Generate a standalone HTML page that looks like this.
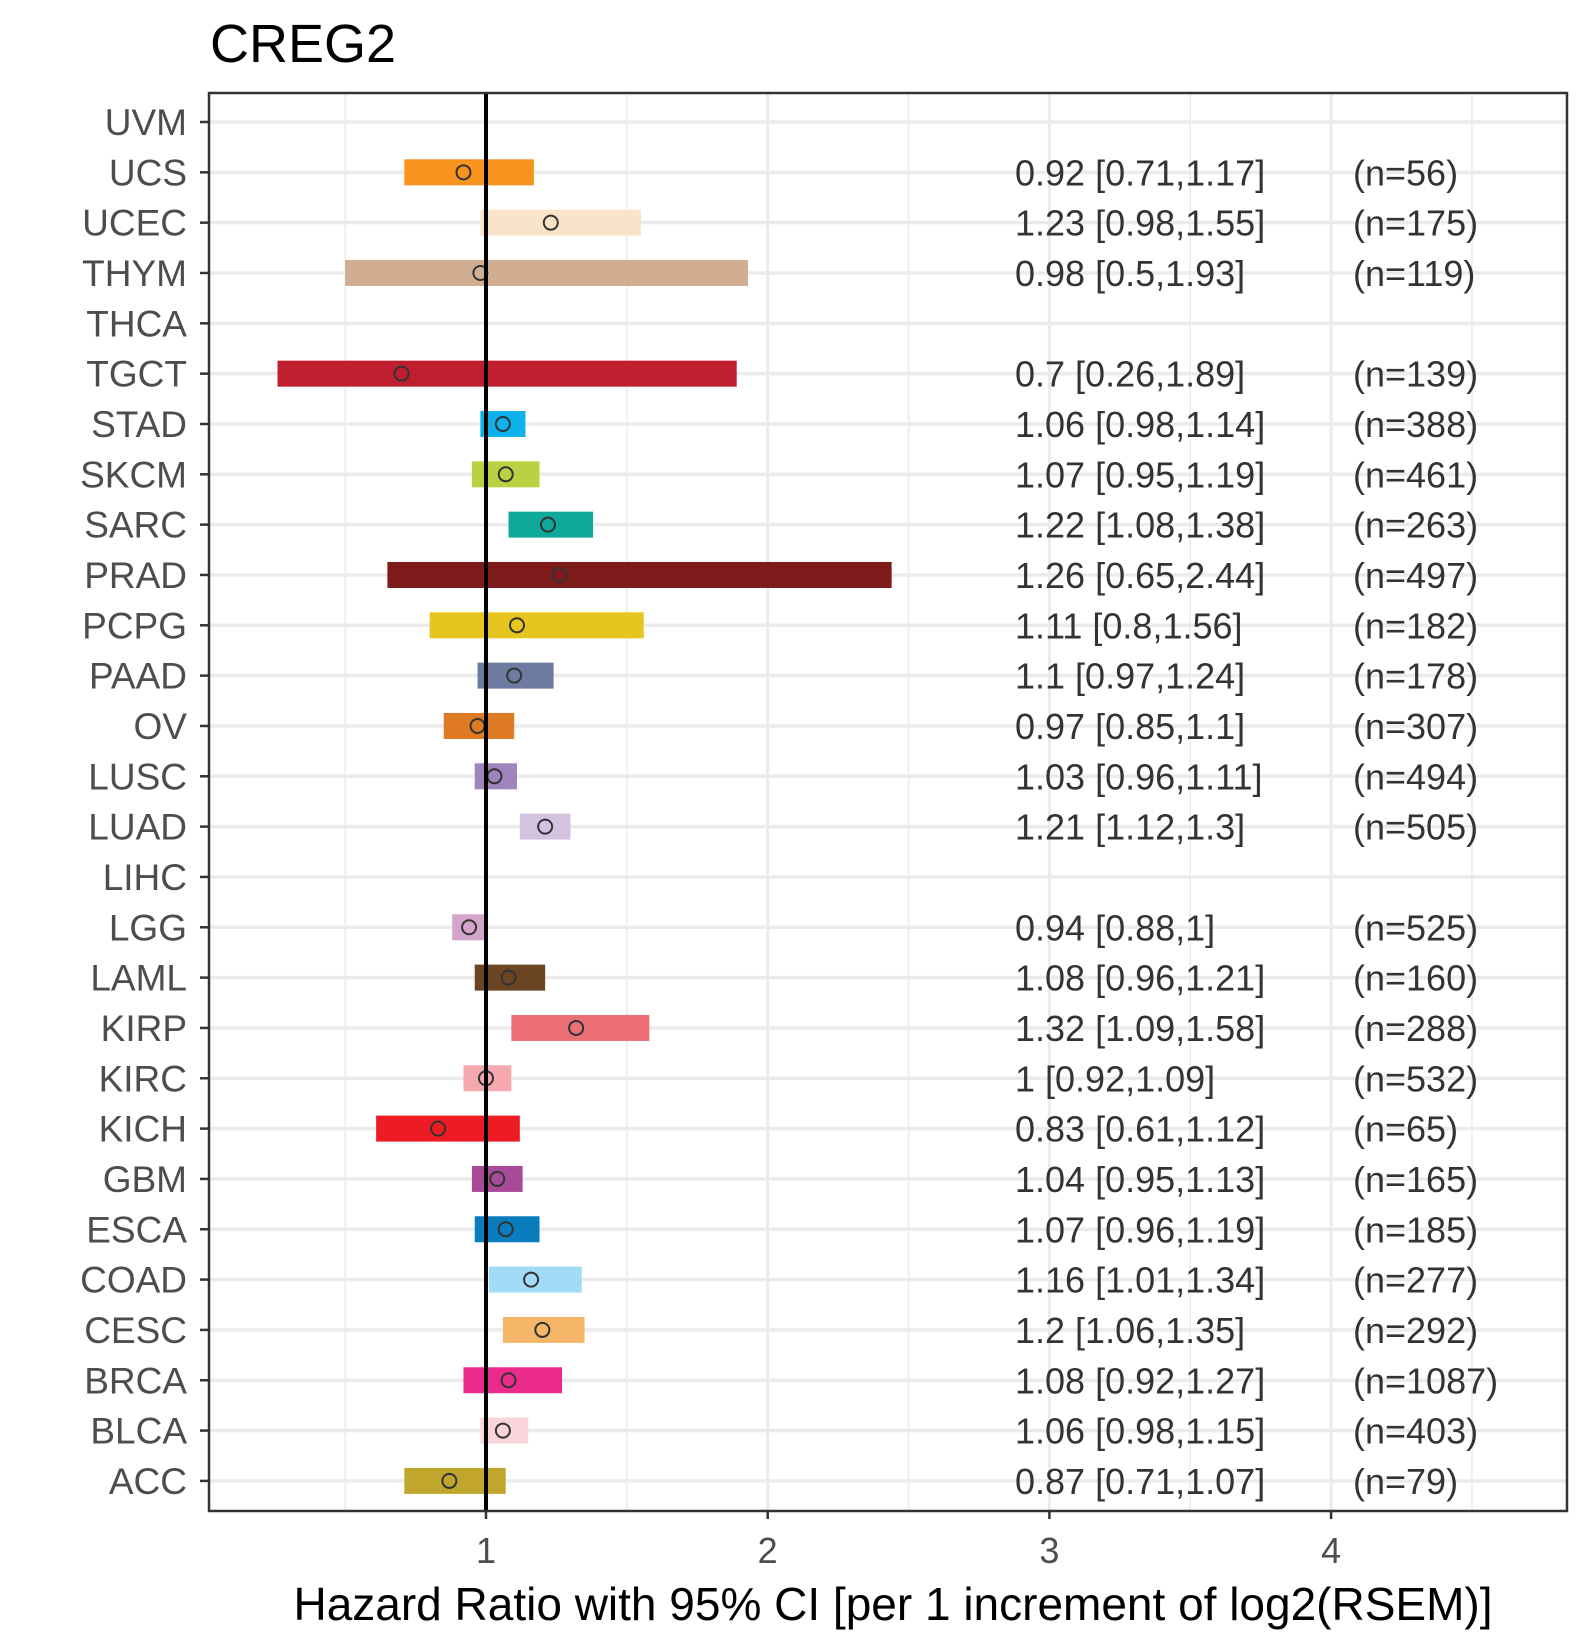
<!DOCTYPE html>
<html><head><meta charset="utf-8"><style>
html,body{margin:0;padding:0;background:#fff;}
svg{display:block;font-family:"Liberation Sans",Arial,sans-serif;}
</style></head><body>
<svg id="chart" width="1590" height="1650" viewBox="0 0 1590 1650">
<text x="210" y="62" font-size="54" fill="#000">CREG2</text>
<g id="grid"></g>
<g id="bars"></g>
<g id="labels"></g>
<text x="893" y="1620" font-size="46" fill="#000" text-anchor="middle">Hazard Ratio with 95% CI [per 1 increment of log2(RSEM)]</text>
</svg>
<script>
const categories = ["UVM","UCS","UCEC","THYM","THCA","TGCT","STAD","SKCM","SARC","PRAD","PCPG","PAAD","OV","LUSC","LUAD","LIHC","LGG","LAML","KIRP","KIRC","KICH","GBM","ESCA","COAD","CESC","BRCA","BLCA","ACC"];
const hr    = [null,0.92,1.23,0.98,null,0.7,1.06,1.07,1.22,1.26,1.11,1.1,0.97,1.03,1.21,null,0.94,1.08,1.32,1,0.83,1.04,1.07,1.16,1.2,1.08,1.06,0.87];
const lower = [null,0.71,0.98,0.5,null,0.26,0.98,0.95,1.08,0.65,0.8,0.97,0.85,0.96,1.12,null,0.88,0.96,1.09,0.92,0.61,0.95,0.96,1.01,1.06,0.92,0.98,0.71];
const upper = [null,1.17,1.55,1.93,null,1.89,1.14,1.19,1.38,2.44,1.56,1.24,1.1,1.11,1.3,null,1,1.21,1.58,1.09,1.12,1.13,1.19,1.34,1.35,1.27,1.15,1.07];
const ns    = [null,56,175,119,null,139,388,461,263,497,182,178,307,494,505,null,525,160,288,532,65,165,185,277,292,1087,403,79];
const colors = ["#999","#F7931E","#FAE3C8","#D1AE92","#999","#BE1E2D","#0DB1EC","#BCD142","#0FA99B","#7E1A1A","#E6C51E","#6E7BA0","#DD7A22","#9F84BE","#D5C2DF","#999","#D4A4CA","#6B4423","#EB6F74","#F4A9AF","#ED1C24","#A74A98","#0A7DBF","#A2DBF6","#F5B66A","#EC2A8C","#FAD3DB","#C1A62E"];
const xTicks = [1,2,3,4];
const xMinor = [0.5,1.5,2.5,3.5,4.5];

const NS="http://www.w3.org/2000/svg";
const L=209,R=1567,T=93,B=1511;
const xs=v=>486+(v-1)*281.7;
const ys=i=>122+i*50.33;
function mk(tag,attrs,parent,txt){const e=document.createElementNS(NS,tag);for(const k in attrs)e.setAttribute(k,attrs[k]);if(txt!=null)e.textContent=txt;parent.appendChild(e);return e;}
const grid=document.getElementById('grid'),bars=document.getElementById('bars'),labels=document.getElementById('labels');
xMinor.forEach(v=>{const e=mk('line',{x1:xs(v),x2:xs(v),y1:T,y2:B,stroke:'#ebebeb','stroke-width':1.5},grid);

});
xTicks.forEach(v=>{const e=mk('line',{x1:xs(v),x2:xs(v),y1:T,y2:B,stroke:'#ebebeb','stroke-width':3},grid);


const t=mk('line',{x1:xs(v),x2:xs(v),y1:B,y2:B+8,stroke:'#333','stroke-width':2.5},labels);


const tl=mk('text',{x:xs(v),y:B+52,'font-size':36,fill:'#4d4d4d','text-anchor':'middle'},labels,String(v));

});
categories.forEach((c,i)=>{const y=ys(i);
const g=mk('line',{x1:L,x2:R,y1:y,y2:y,stroke:'#ebebeb','stroke-width':3.5},grid);


const t=mk('line',{x1:L-9,x2:L,y1:y,y2:y,stroke:'#333','stroke-width':2.5},labels);


const tl=mk('text',{x:187,y:y+13,'font-size':37,fill:'#4d4d4d','text-anchor':'end'},labels,c);


if(hr[i]!=null){
const b=mk('rect',{x:xs(lower[i]),y:y-13,width:xs(upper[i])-xs(lower[i]),height:26,fill:colors[i]},bars);


const p=mk('circle',{cx:xs(hr[i]),cy:y,r:7,fill:'none',stroke:'#333','stroke-width':2},bars);


const a=mk('text',{x:1015,y:y+13,'font-size':36,fill:'#333'},labels,hr[i]+' ['+lower[i]+','+upper[i]+']');


const n=mk('text',{x:1353,y:y+13,'font-size':36,fill:'#333'},labels,'(n='+ns[i]+')');

}
});
const ref=mk('line',{x1:xs(1),x2:xs(1),y1:T,y2:B,stroke:'#000','stroke-width':4},bars);


const fr=mk('rect',{x:L,y:T,width:R-L,height:B-T,fill:'none',stroke:'#333','stroke-width':2.5},bars);


</script>
</body></html>
